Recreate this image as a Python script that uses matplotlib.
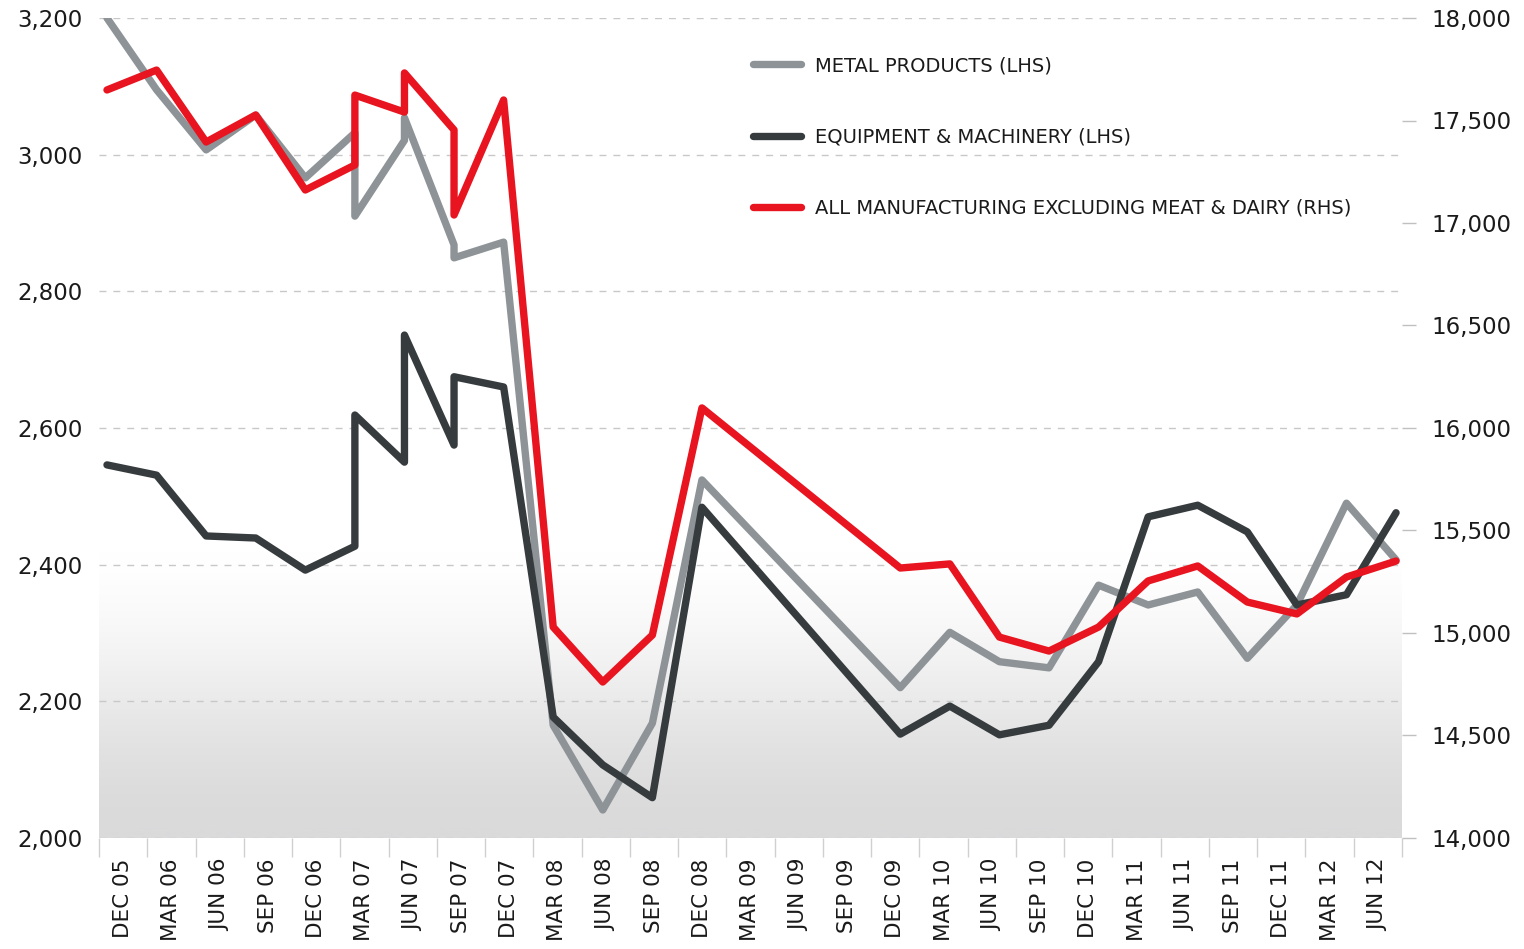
import matplotlib
matplotlib.use("Agg")
import matplotlib.pyplot as plt
import numpy as np

plt.rcParams['font.family'] = ['DejaVu Sans']

quarters = ['DEC 05', 'MAR 06', 'JUN 06', 'SEP 06', 'DEC 06', 'MAR 07', 'JUN 07',
            'SEP 07', 'DEC 07', 'MAR 08', 'JUN 08', 'SEP 08', 'DEC 08', 'MAR 09',
            'JUN 09', 'SEP 09', 'DEC 09', 'MAR 10', 'JUN 10', 'SEP 10', 'DEC 10',
            'MAR 11', 'JUN 11', 'SEP 11', 'DEC 11', 'MAR 12', 'JUN 12']

# quarter index of each point (a repeated index = revised value at the same quarter)
point_idx = [0, 1, 2, 3, 4, 5, 5, 6, 6, 7, 7, 8, 9, 10, 11, 12,
             16, 17, 18, 19, 20, 21, 22, 23, 24, 25, 26]

metal = [3200, 3095, 3007, 3058, 2966, 3032, 2910, 3021, 3054, 2868, 2849, 2872,
         2165, 2041, 2168, 2524, 2220, 2301, 2258, 2249, 2370, 2341, 2360, 2263,
         2341, 2490, 2407]
equipment = [2546, 2531, 2442, 2439, 2392, 2427, 2619, 2550, 2736, 2575, 2675, 2660,
             2177, 2107, 2059, 2484, 2152, 2193, 2151, 2165, 2258, 2470, 2487, 2448,
             2341, 2356, 2476]
all_manuf = [17649, 17746, 17395, 17527, 17161, 17283, 17624, 17541, 17732, 17454,
             17039, 17600, 15029, 14761, 14990, 16098, 15317, 15337, 14980, 14912,
             15029, 15254, 15327, 15151, 15093, 15273, 15351]

left_ticks = [2000, 2200, 2400, 2600, 2800, 3000, 3200]
right_ticks = [14000, 14500, 15000, 15500, 16000, 16500, 17000, 17500, 18000]

c_metal = '#8d9396'
c_equip = '#363b3e'
c_red = '#e8141f'
c_text = '#1a1a1a'

fig = plt.figure(figsize=(15.24, 9.49), dpi=100)
ax = fig.add_axes([99 / 1524, 1 - 838 / 949, 1303 / 1524, 820 / 949])
ax2 = ax.twinx()

x0, x1 = -0.161, 26.12
ax.set_xlim(x0, x1)
ax.set_ylim(2000, 3200)
ax2.set_ylim(14000, 18000)

# background gradient: white in the upper part, light grey at the bottom
h = np.linspace(0, 1, 512)
s = np.clip((0.36 - h) / 0.36, 0, 1)
grey = s * s * (3 - 2 * s)
ax.imshow(grey[:, None], extent=[0, 1, 0, 1], transform=ax.transAxes, aspect='auto',
          cmap=matplotlib.colors.LinearSegmentedColormap.from_list('g', ['#ffffff', '#dadadb']),
          vmin=0, vmax=1, origin='lower', zorder=0, interpolation='bilinear')

for v in left_ticks:
    ax.axhline(v, color='#c8c8c8', lw=1, ls=(0, (5, 5)), zorder=1)

xs = np.array(point_idx, dtype=float)
kw = dict(lw=5.3, solid_capstyle='round', solid_joinstyle='round')
l1, = ax.plot(xs, metal, color=c_metal, zorder=3, label='METAL PRODUCTS (LHS)', **kw)
l2, = ax.plot(xs, equipment, color=c_equip, zorder=4, label='EQUIPMENT & MACHINERY (LHS)', **kw)
l3, = ax2.plot(xs, all_manuf, color=c_red, zorder=5,
               label='ALL MANUFACTURING EXCLUDING MEAT & DAIRY (RHS)', **kw)

for sp in ax.spines.values():
    sp.set_visible(False)
for sp in ax2.spines.values():
    sp.set_visible(False)

# x axis: labels in band centres, separators at band edges
bw = (x1 - x0) / len(quarters)
ax.set_xticks([x0 + (k + 0.5) * bw for k in range(len(quarters))])
ax.set_xticklabels(quarters, rotation=90, fontsize=15.5, color=c_text, va='top')
ax.set_xticks([x0 + k * bw for k in range(len(quarters) + 1)], minor=True)
ax.tick_params(axis='x', which='major', length=0, pad=15)
ax.tick_params(axis='x', which='minor', length=14, width=1, color='#d0d0d0')

ax.set_yticks(left_ticks)
ax.set_yticklabels([f'{v:,}' for v in left_ticks], fontsize=16.5, color=c_text)
ax.tick_params(axis='y', length=0, pad=12)

ax2.set_yticks(right_ticks)
ax2.set_yticklabels([f'{v:,}' for v in right_ticks], fontsize=16.5, color=c_text)
ax2.tick_params(axis='y', length=10, width=1, color='#c0c0c0', pad=11)

ax.set_zorder(ax2.get_zorder() - 1)
ax2.patch.set_visible(False)
ax.patch.set_visible(False)

fig.legend(handles=[l1, l2, l3], loc='upper left',
           bbox_to_anchor=(753 / 1524, 1 - 56 / 949), frameon=False,
           fontsize=14, handlelength=2.45, handletextpad=0.72, labelspacing=2.7,
           borderpad=0, borderaxespad=0, labelcolor=c_text)

fig.savefig('out.png', dpi=100)
